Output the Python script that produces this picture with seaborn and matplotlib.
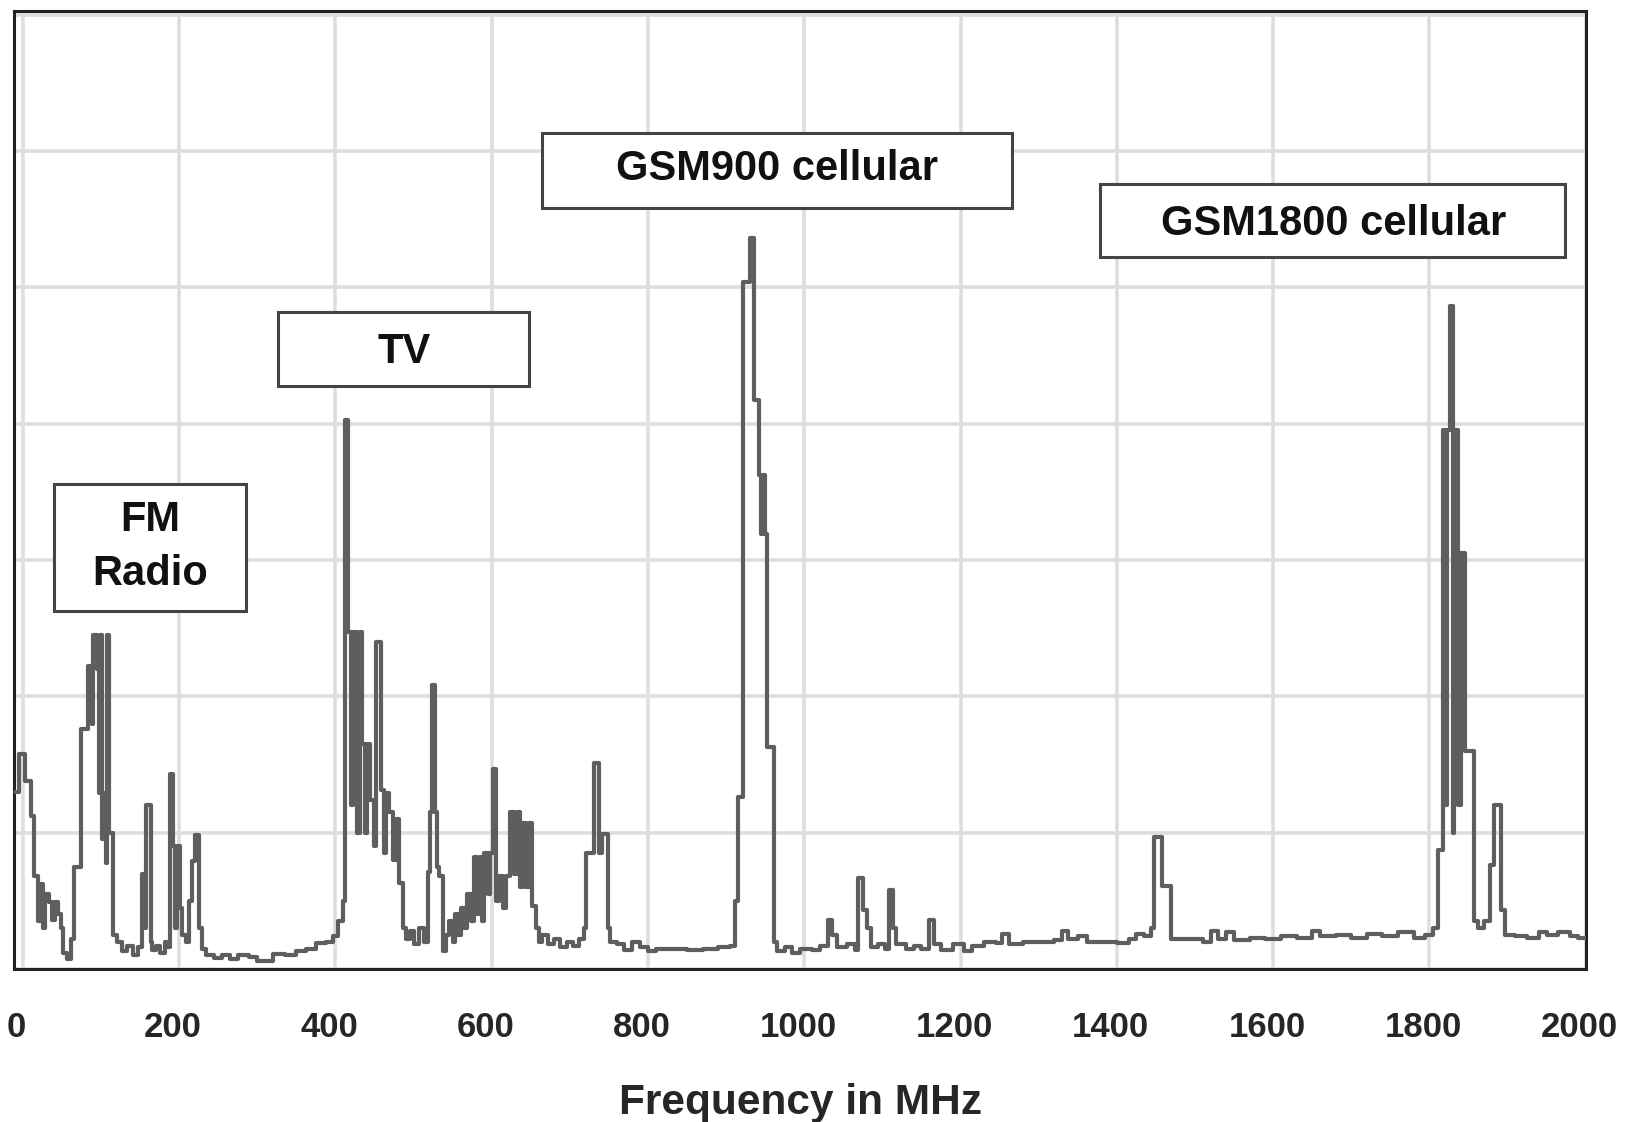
import matplotlib
matplotlib.use("Agg")
import matplotlib.pyplot as plt
import matplotlib.transforms as mtransforms
from matplotlib.patches import Rectangle
import seaborn as sns

# spectrum trace (frequency in MHz, level in grid units)
freq_mhz = [
    -10, -5, 3, 10, 15, 19, 22, 26, 29, 33, 37, 41, 45, 49, 52, 56, 62, 66, 74, 84,
    88, 90, 95, 97, 99, 102, 104, 106, 108, 111, 115,
    120, 127, 134, 141, 148, 152, 156, 158, 164, 166, 170, 176, 182, 186, 188, 192,
    195, 197, 201, 204, 209, 213, 216, 221, 226, 229,
    235, 245, 255, 265, 275, 290, 300, 312, 320, 335, 350, 362, 375, 388, 397,
    403, 410, 412, 416, 420, 423, 428, 431, 434, 438, 441, 445, 449, 452, 458, 462,
    465, 469, 474, 478, 481, 486, 490, 496, 501, 507, 513, 519, 521, 524, 528, 530,
    533, 538,
    542, 546, 550, 553, 557, 561, 565, 569, 573, 577, 581, 585, 588, 590, 595, 598,
    602, 606, 610, 614, 618, 624, 628, 632, 636, 640, 644, 648, 652, 657, 661,
    665, 672, 680, 688, 696, 704, 712, 718, 721, 731, 737, 741, 749, 752,
    760, 770, 780, 790, 800, 810, 830, 850, 870, 890, 905, 912,
    915, 922, 931, 936, 942, 945, 947, 950, 953, 961,
    965, 975, 985, 995, 1010, 1020, 1030, 1036, 1042, 1055, 1065, 1069, 1075, 1080,
    1085, 1095, 1103, 1108, 1114, 1118, 1130, 1140, 1150, 1160, 1166, 1175, 1190,
    1205, 1215, 1230, 1245, 1253, 1262, 1280, 1300, 1320, 1330, 1338, 1350, 1362,
    1380, 1400, 1415, 1425, 1435, 1444, 1447, 1458, 1470,
    1490, 1510, 1520, 1530, 1540, 1550, 1570, 1590, 1610, 1630, 1650, 1660, 1680,
    1700, 1720, 1740, 1760, 1780, 1795, 1805,
    1811, 1817, 1820, 1822, 1826, 1830, 1832, 1836, 1840, 1846, 1857, 1862, 1870,
    1877, 1883, 1892, 1897, 1910, 1925, 1940, 1950, 1965, 1980, 1990, 2000,
]
level = [
    1.30, 1.58, 1.38, 1.12, 0.68, 0.35, 0.62, 0.30, 0.55, 0.49, 0.36, 0.49, 0.40, 0.30, 0.12, 0.07, 0.22, 0.75, 1.76, 2.22,
    1.80, 2.45, 2.20, 1.29, 2.45, 0.95, 1.29, 0.78, 2.45, 1.00, 0.25,
    0.20, 0.13, 0.17, 0.10, 0.16, 0.70, 0.30, 1.20, 0.20, 0.14, 0.17, 0.12, 0.20, 0.16, 1.43, 0.90,
    0.30, 0.90, 0.45, 0.25, 0.20, 0.50, 0.79, 0.98, 0.30, 0.15,
    0.10, 0.08, 0.10, 0.07, 0.10, 0.09, 0.06, 0.06, 0.11, 0.10, 0.13, 0.15, 0.19, 0.20, 0.24,
    0.35, 0.50, 4.03, 2.47, 1.20, 2.47, 1.00, 2.47, 1.65, 1.00, 1.65, 1.24, 0.90, 2.40, 1.31, 0.85,
    1.29, 1.15, 0.80, 1.10, 0.63, 0.30, 0.22, 0.28, 0.18, 0.30, 0.20, 0.71, 1.15, 2.08, 1.15, 0.75,
    0.68, 0.13,
    0.25, 0.35, 0.20, 0.40, 0.25, 0.45, 0.30, 0.55, 0.35, 0.82, 0.40, 0.82, 0.35, 0.85, 0.55, 0.85,
    1.47, 0.50, 0.68, 0.45, 0.68, 1.15, 0.70, 1.15, 0.60, 1.07, 0.60, 1.07, 0.46, 0.30, 0.20,
    0.25, 0.18, 0.22, 0.16, 0.20, 0.17, 0.22, 0.30, 0.85, 1.51, 0.85, 0.99, 0.30, 0.20,
    0.18, 0.14, 0.20, 0.16, 0.13, 0.15, 0.15, 0.14, 0.15, 0.16, 0.17, 0.50,
    1.26, 5.04, 5.36, 4.17, 3.62, 3.19, 3.62, 3.19, 1.63, 0.20,
    0.13, 0.16, 0.12, 0.15, 0.14, 0.17, 0.36, 0.25, 0.16, 0.18, 0.14, 0.67, 0.43, 0.30,
    0.16, 0.18, 0.15, 0.58, 0.30, 0.18, 0.15, 0.17, 0.15, 0.36, 0.18, 0.14, 0.18,
    0.13, 0.17, 0.20, 0.19, 0.26, 0.18, 0.20, 0.20, 0.21, 0.28, 0.22, 0.24, 0.20,
    0.20, 0.19, 0.22, 0.26, 0.24, 0.30, 0.97, 0.61, 0.22,
    0.22, 0.20, 0.28, 0.22, 0.27, 0.21, 0.23, 0.22, 0.24, 0.23, 0.28, 0.24, 0.25,
    0.23, 0.26, 0.24, 0.27, 0.23, 0.25, 0.30,
    0.87, 3.95, 1.20, 3.95, 4.86, 1.00, 3.95, 1.20, 3.05, 1.60, 0.35, 0.30, 0.35,
    0.76, 1.20, 0.43, 0.25, 0.24, 0.23, 0.27, 0.25, 0.27, 0.24, 0.23, 0.23,
]

x_ticks = [0, 200, 400, 600, 800, 1000, 1200, 1400, 1600, 1800, 2000]
band_labels = ["FM\nRadio", "TV", "GSM900 cellular", "GSM1800 cellular"]
# label boxes in axes fractions: x0, y0, width, height, text x, text y
band_boxes = [
    (0.0251, 0.3735, 0.1222, 0.1324, 0.0863, 0.4402),
    (0.1677, 0.6082, 0.1598, 0.0772, 0.2479, 0.6437),
    (0.3357, 0.7939, 0.2992, 0.0782, 0.4853, 0.8346),
    (0.6909, 0.7428, 0.2959, 0.0761, 0.8398, 0.7772),
]

sns.set_style("white")
plt.rcParams["font.family"] = ["Liberation Sans", "DejaVu Sans"]

fig = plt.figure(figsize=(16.25, 11.22), dpi=100)
ax = fig.add_axes([0.0089, 0.1364, 0.9669, 0.8542])

sns.lineplot(x=freq_mhz, y=level, ax=ax, estimator=None, sort=False,
             drawstyle="steps-post", color="#5e5e5e", linewidth=3.0, zorder=3)

ax.set_xlim(-10.6, 2000)
ax.set_ylim(0, 7.03)
ax.set_xticks(x_ticks)
ax.set_xticklabels([str(t) for t in x_ticks], fontsize=25, fontweight="bold")
ax.set_yticks(range(8))
ax.grid(True, color="#dedede", linewidth=2.6, zorder=0)
ax.tick_params(axis="x", length=0, pad=30)
ax.tick_params(axis="y", length=0, labelleft=False)
ax.set_ylabel("")
ax.set_xlabel("Frequency in MHz", fontsize=30.5, fontweight="bold", labelpad=28)

# labels sit a little left of the grid lines in the original
shift = mtransforms.ScaledTranslation(-6 / 100, 0, fig.dpi_scale_trans)
for lab in ax.get_xticklabels():
    lab.set_transform(lab.get_transform() + shift)

for sp in ax.spines.values():
    sp.set_visible(True)
    sp.set_color("#222222")
    sp.set_linewidth(2.2)

for text, (bx, by, bw, bh, tx, ty) in zip(band_labels, band_boxes):
    ax.add_patch(Rectangle((bx, by), bw, bh, transform=ax.transAxes,
                           facecolor="white", edgecolor="#444444",
                           linewidth=2.2, zorder=5))
    ax.text(tx, ty, text, transform=ax.transAxes, ha="center", va="center",
            fontsize=30, fontweight="bold", color="#111111",
            linespacing=1.45, zorder=6)

fig.savefig("out.png", dpi=100)
